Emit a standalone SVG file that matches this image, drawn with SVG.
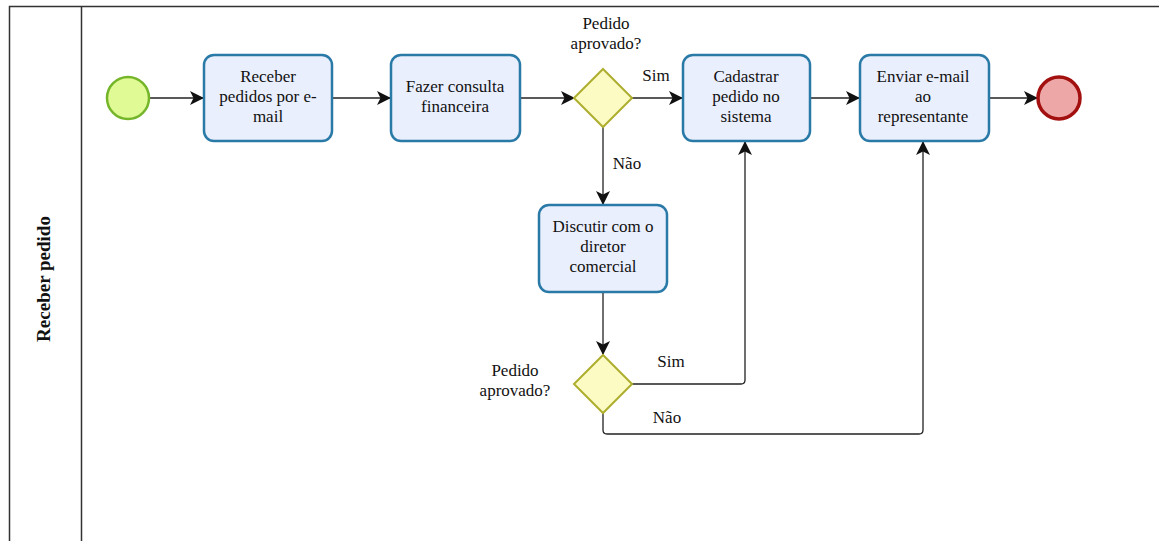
<svg xmlns="http://www.w3.org/2000/svg" width="1159" height="541" viewBox="0 0 1159 541" font-family="'Liberation Serif', 'DejaVu Serif', serif">
  <style>
    text { font-size: 17px; fill: #111; }
    .task { fill: #eaeffd; stroke: #2a7aa8; stroke-width: 2.5; }
    .gw { fill: #fbfbc3; stroke: #aeae2e; stroke-width: 2; }
    .flow { fill: none; stroke: #222; stroke-width: 1.3; marker-end: url(#arrow); }
    .pool { fill: none; stroke: #333; stroke-width: 1.5; }
    .mid { text-anchor: middle; }
  </style>
  <defs>
    <marker id="arrow" viewBox="0 0 14 14" refX="13" refY="7" markerWidth="14" markerHeight="14" markerUnits="userSpaceOnUse" orient="auto">
      <path d="M0,0 L14,7 L0,14 L3.5,7 Z" fill="#111"/>
    </marker>
  </defs>

  <rect width="1159" height="541" fill="#fff"/>

  <!-- pool and lane header -->
  <g id="pool">
    <path class="pool" d="M9.5,545 V6.5 H1159"/>
    <path class="pool" d="M81.5,6.5 V545"/>
    <text x="0" y="0" transform="translate(50,279) rotate(-90)" class="mid" font-weight="bold" style="font-size:19px">Receber pedido</text>
  </g>

  <!-- sequence flows -->
  <g id="connectors">
    <path class="flow" d="M149,98 H203"/>
    <path class="flow" d="M332,98 H390"/>
    <path class="flow" d="M520,98 H574"/>
    <path class="flow" d="M632,98 H682"/>
    <path class="flow" d="M810,98 H859"/>
    <path class="flow" d="M989,98 H1037"/>
    <path class="flow" d="M603,127 V204"/>
    <path class="flow" d="M603,292 V354"/>
    <path class="flow" d="M632,384 H741 Q745,384 745,380 V142"/>
    <path class="flow" d="M603,413 V430 Q603,434 607,434 H919 Q923,434 923,430 V142"/>
    <text x="656" y="81" class="mid">Sim</text>
    <text x="627" y="169" class="mid">Não</text>
    <text x="671" y="367" class="mid">Sim</text>
    <text x="667" y="423" class="mid">Não</text>
  </g>

  <g id="start">
    <circle cx="128" cy="98" r="21" fill="#e0fb95" stroke="#74b52a" stroke-width="2.5"/>
  </g>

  <g id="task-receber">
    <rect class="task" x="204" y="55" width="128" height="86" rx="10"/>
    <text class="mid" x="268" y="82">Receber</text>
    <text class="mid" x="268" y="102">pedidos por e-</text>
    <text class="mid" x="268" y="122">mail</text>
  </g>

  <g id="task-consulta">
    <rect class="task" x="391" y="55" width="129" height="86" rx="10"/>
    <text class="mid" x="455" y="92">Fazer consulta</text>
    <text class="mid" x="455" y="112">financeira</text>
  </g>

  <g id="gateway-1">
    <path class="gw" d="M603,69 L632,98 L603,127 L574,98 Z"/>
    <text class="mid" x="606" y="29">Pedido</text>
    <text class="mid" x="606" y="49">aprovado?</text>
  </g>

  <g id="task-cadastrar">
    <rect class="task" x="683" y="55" width="127" height="86" rx="10"/>
    <text class="mid" x="746" y="82">Cadastrar</text>
    <text class="mid" x="746" y="102">pedido no</text>
    <text class="mid" x="746" y="122">sistema</text>
  </g>

  <g id="task-enviar">
    <rect class="task" x="860" y="55" width="129" height="86" rx="10"/>
    <text class="mid" x="923" y="82">Enviar e-mail</text>
    <text class="mid" x="923" y="102">ao</text>
    <text class="mid" x="923" y="122">representante</text>
  </g>

  <g id="end">
    <circle cx="1059" cy="98" r="21" fill="#eda7a7" stroke="#a31010" stroke-width="3.5"/>
  </g>

  <g id="task-discutir">
    <rect class="task" x="539" y="205" width="128" height="87" rx="10"/>
    <text class="mid" x="603" y="232">Discutir com o</text>
    <text class="mid" x="603" y="252">diretor</text>
    <text class="mid" x="603" y="272">comercial</text>
  </g>

  <g id="gateway-2">
    <path class="gw" d="M603,355 L632,384 L603,413 L574,384 Z"/>
    <text class="mid" x="515" y="376">Pedido</text>
    <text class="mid" x="515" y="396">aprovado?</text>
  </g>
</svg>
